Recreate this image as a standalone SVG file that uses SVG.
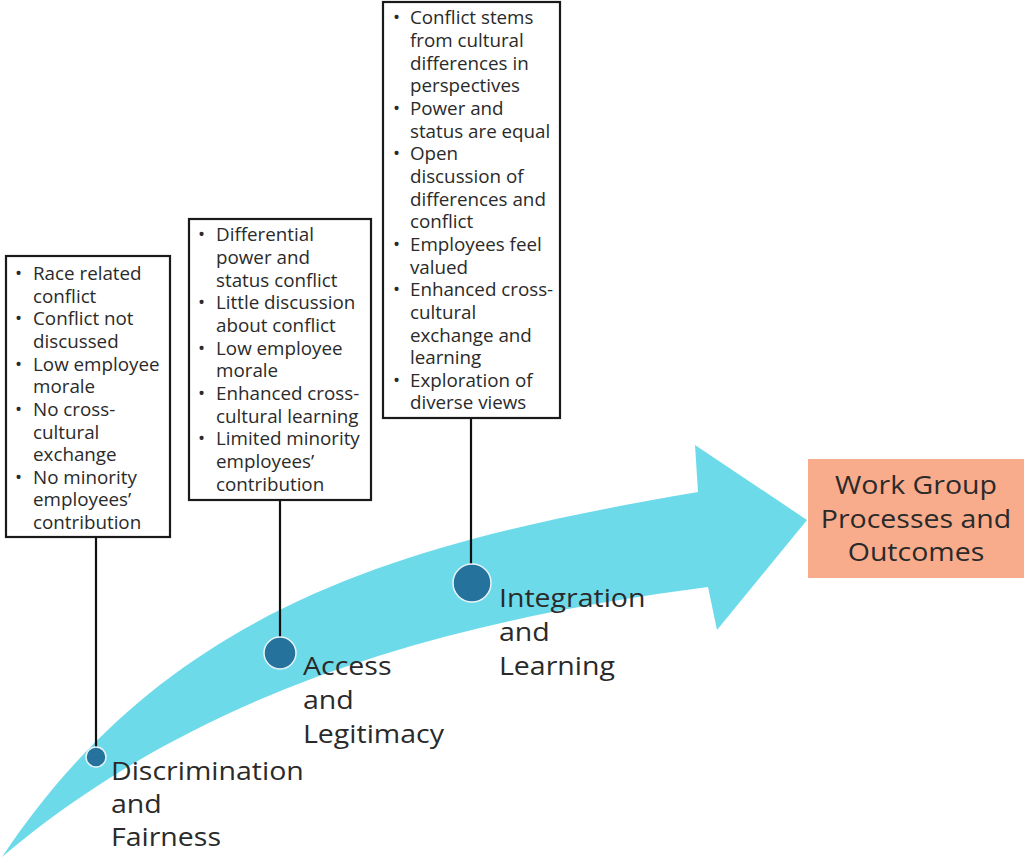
<svg xmlns="http://www.w3.org/2000/svg" width="1024" height="860" viewBox="0 0 1024 860">
<style>
.box{fill:#fff;stroke:#1a1a1a;stroke-width:2.2}
.bt{font-family:"Open Sans","Noto Sans",sans-serif;font-size:17.4px;fill:#2a2a2a}
.lbl{font-family:"Open Sans","Noto Sans",sans-serif;font-size:25px;fill:#2a2a2a}
.conn{stroke:#111;stroke-width:2.2;fill:none}
.dot{fill:#25729c;stroke:#e8f4f8;stroke-width:1.5}
</style>
<rect width="1024" height="860" fill="#fff"/>
<g id="arrow">
<path d="M 2,857 C 168,608 399,543 698,492 L 695,445 L 807,520 L 717,630 L 708,587 C 444,621 199,690 2,857 Z" fill="#6ddaea"/>
</g>
<g id="connectors">
<line class="conn" x1="96" y1="538" x2="96" y2="748"/>
<line class="conn" x1="280" y1="500" x2="280" y2="638"/>
<line class="conn" x1="471" y1="418" x2="471" y2="565"/>
</g>
<g id="box1">
<rect class="box" x="6" y="256" width="164" height="281"/>
<text class="bt" transform="translate(15,0) scale(1.08,1)">
<tspan x="0" y="280">•</tspan><tspan x="16.7" y="280">Race related</tspan>
<tspan x="16.7" y="302.6">conflict</tspan>
<tspan x="0" y="325.3">•</tspan><tspan x="16.7" y="325.3">Conflict not</tspan>
<tspan x="16.7" y="348">discussed</tspan>
<tspan x="0" y="370.6">•</tspan><tspan x="16.7" y="370.6">Low employee</tspan>
<tspan x="16.7" y="393.3">morale</tspan>
<tspan x="0" y="416">•</tspan><tspan x="16.7" y="416">No cross-</tspan>
<tspan x="16.7" y="438.6">cultural</tspan>
<tspan x="16.7" y="461.2">exchange</tspan>
<tspan x="0" y="483.9">•</tspan><tspan x="16.7" y="483.9">No minority</tspan>
<tspan x="16.7" y="506.5">employees’</tspan>
<tspan x="16.7" y="529.2">contribution</tspan>
</text>
</g>
<g id="box2">
<rect class="box" x="189" y="219" width="182" height="281"/>
<text class="bt" transform="translate(198,0) scale(1.08,1)">
<tspan x="0" y="241.5">•</tspan><tspan x="16.7" y="241.5">Differential</tspan>
<tspan x="16.7" y="264.2">power and</tspan>
<tspan x="16.7" y="286.8">status conflict</tspan>
<tspan x="0" y="309.5">•</tspan><tspan x="16.7" y="309.5">Little discussion</tspan>
<tspan x="16.7" y="332.1">about conflict</tspan>
<tspan x="0" y="354.8">•</tspan><tspan x="16.7" y="354.8">Low employee</tspan>
<tspan x="16.7" y="377.4">morale</tspan>
<tspan x="0" y="400.1">•</tspan><tspan x="16.7" y="400.1">Enhanced cross-</tspan>
<tspan x="16.7" y="422.7">cultural learning</tspan>
<tspan x="0" y="445.4">•</tspan><tspan x="16.7" y="445.4">Limited minority</tspan>
<tspan x="16.7" y="468">employees’</tspan>
<tspan x="16.7" y="490.7">contribution</tspan>
</text>
</g>
<g id="box3">
<rect class="box" x="383" y="2" width="177" height="416"/>
<text class="bt" transform="translate(393,0) scale(1.08,1)">
<tspan x="0" y="24.5">•</tspan><tspan x="15.7" y="24.5">Conflict stems</tspan>
<tspan x="15.7" y="47.1">from cultural</tspan>
<tspan x="15.7" y="69.8">differences in</tspan>
<tspan x="15.7" y="92.4">perspectives</tspan>
<tspan x="0" y="115.1">•</tspan><tspan x="15.7" y="115.1">Power and</tspan>
<tspan x="15.7" y="137.7">status are equal</tspan>
<tspan x="0" y="160.4">•</tspan><tspan x="15.7" y="160.4">Open</tspan>
<tspan x="15.7" y="183">discussion of</tspan>
<tspan x="15.7" y="205.7">differences and</tspan>
<tspan x="15.7" y="228.3">conflict</tspan>
<tspan x="0" y="251">•</tspan><tspan x="15.7" y="251">Employees feel</tspan>
<tspan x="15.7" y="273.6">valued</tspan>
<tspan x="0" y="296.3">•</tspan><tspan x="15.7" y="296.3">Enhanced cross-</tspan>
<tspan x="15.7" y="318.9">cultural</tspan>
<tspan x="15.7" y="341.6">exchange and</tspan>
<tspan x="15.7" y="364.2">learning</tspan>
<tspan x="0" y="386.9">•</tspan><tspan x="15.7" y="386.9">Exploration of</tspan>
<tspan x="15.7" y="409.5">diverse views</tspan>
</text>
</g>
<g id="stage1">
<circle class="dot" cx="96" cy="757" r="10"/>
<text class="lbl" transform="translate(111,0) scale(1.14,1)"><tspan x="0" y="780">Discrimination</tspan><tspan x="0" y="813">and</tspan><tspan x="0" y="846.5">Fairness</tspan></text>
</g>
<g id="stage2">
<circle class="dot" cx="280" cy="653" r="16"/>
<text class="lbl" transform="translate(303,0) scale(1.14,1)"><tspan x="0" y="675">Access</tspan><tspan x="0" y="709">and</tspan><tspan x="0" y="743">Legitimacy</tspan></text>
</g>
<g id="stage3">
<circle class="dot" cx="472" cy="583" r="19"/>
<text class="lbl" transform="translate(499,0) scale(1.14,1)"><tspan x="0" y="607">Integration</tspan><tspan x="0" y="641">and</tspan><tspan x="0" y="675">Learning</tspan></text>
</g>
<g id="outcome">
<rect x="808" y="459" width="216" height="119" fill="#f8ac8c"/>
<text class="lbl" text-anchor="middle" transform="translate(916,0) scale(1.14,1)"><tspan x="0" y="494.5">Work Group</tspan><tspan x="0" y="528">Processes and</tspan><tspan x="0" y="561">Outcomes</tspan></text>
</g>
</svg>
